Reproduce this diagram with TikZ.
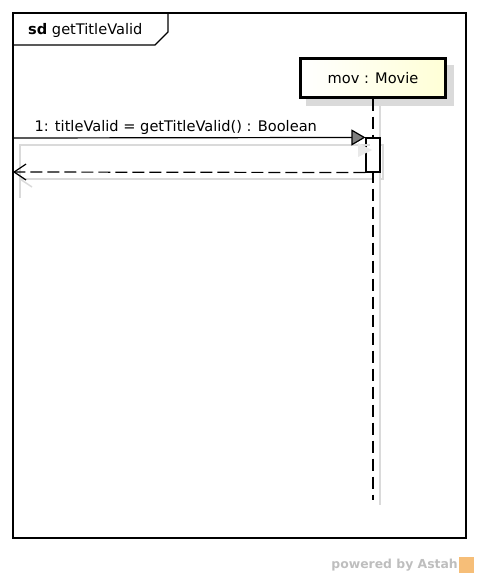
\documentclass[tikz,border=0pt]{standalone}
\usepackage{fontspec}
\setmainfont{DejaVu Sans}
\usepackage{tikz}
\usetikzlibrary{arrows.meta,shadings}

\definecolor{lifefill}{RGB}{255,255,214}
\definecolor{shadowgray}{RGB}{218,218,218}
\definecolor{astahgray}{RGB}{190,190,190}
\definecolor{astahorange}{RGB}{246,190,120}
\tikzset{
  lifebox/.style={draw=black, line width=2.4pt, left color=white, right color=lifefill,
    minimum width=145pt, minimum height=39pt, inner sep=0pt},
  callmsg/.style={line width=1.2pt, -{Triangle[length=14pt,width=16pt,fill=gray]}},
  retmsg/.style={line width=1.2pt, dash pattern=on 12pt off 5pt, -{Straight Barb[length=12pt,width=16pt]}},
  shade/.style={draw=shadowgray, line width=1.4pt},
}

\begin{document}
\begin{tikzpicture}[x=1pt, y=-1pt, font=\fontsize{14.6}{17}\selectfont]
      \useasboundingbox (0,0) rectangle (480,578);
      % frame
      \draw [line width=1.1pt] (13,13) rectangle (466,538);
      \draw [line width=1.1pt] (13,45) -- (155,45) -- (168,32) -- (168,13);
      \node [anchor=west, inner sep=0pt] (title) at (28,30) {\textbf{sd} getTitleValid};
      % lifeline
      \fill [shadowgray] (306,65) rectangle (454,106);
      \node [lifebox] (mov) at (373,78) {mov : Movie};
      \draw [shade] (380,106) -- (380,505);
      \draw [line width=1.4pt, dash pattern=on 12pt off 6pt] (mov.south) -- (373,500) coordinate (movend);
      % activation
      \draw [shade] (380,145) rectangle (383,179);
      \node [draw, fill=white, line width=1.1pt, minimum width=14pt, minimum height=34pt, inner sep=0pt] (act) at (373,155) {};
      % shadows of messages
      \draw [shade] (20,198) -- (20,145) -- (370,145);
      \draw [shade] (20,179) -- (372,179);
      \fill [shadowgray!60] (358,143) -- (372,150) -- (358,157) -- cycle;
      \draw [shade] (20,179) -- (32,187);
      % gate on frame
      \coordinate (gatein) at (13,138);
      \coordinate (gateout) at (13,172);
      \draw [line width=2.2pt] (13,138) -- (13,198);
      % messages
      \draw [callmsg] (gatein) -- (act.north west) node [pos=0, anchor=south west, xshift=18pt, inner sep=3pt] (msg) {1: titleValid = getTitleValid() : Boolean};
      \draw [retmsg] (act.south west) -- (gateout);
      % footer
      \node [anchor=east, inner sep=0pt, text=astahgray, font=\fontsize{12.4}{14}\selectfont\bfseries] (astah) at (458,565) {powered by Astah};
      \fill [astahorange] (459,557) rectangle (474,573);
    \end{tikzpicture}
\end{document}
